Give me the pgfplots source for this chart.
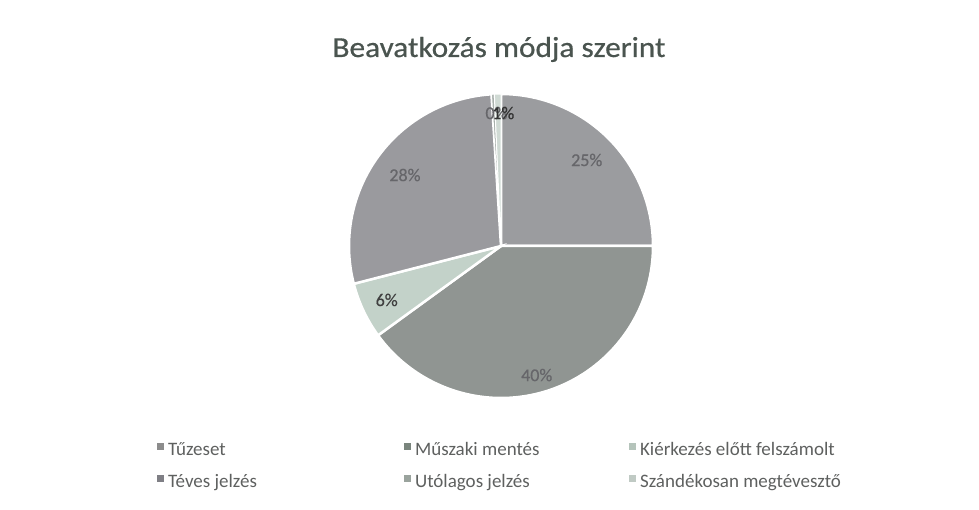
\documentclass[border=0pt]{standalone}
\usepackage{pgfplots}
\pgfplotsset{compat=1.18}
\usepackage{pgfplotstable}
\usepackage{fontspec}
\setmainfont{Carlito}
\newfontfamily\titlefont{Carlito}[FakeStretch=1.08, FakeBold=0.6]
\newfontfamily\labfont{Carlito}[FakeBold=0.5]
\definecolor{cA}{HTML}{9B9C9F}
\definecolor{cB}{HTML}{909592}
\definecolor{cC}{HTML}{C3D2C9}
\definecolor{cD}{HTML}{9A9A9E}
\definecolor{cE}{HTML}{A8B0AB}
\definecolor{cF}{HTML}{D0DAD4}
\definecolor{lA}{HTML}{8C8C8C}
\definecolor{lB}{HTML}{7A857D}
\definecolor{lC}{HTML}{B5C4BB}
\definecolor{lD}{HTML}{7F7F85}
\definecolor{lE}{HTML}{9AA39D}
\definecolor{lF}{HTML}{C0CAC4}
\definecolor{titlegray}{HTML}{4A544F}
\definecolor{legendgray}{HTML}{5E605F}
\definecolor{labgray}{HTML}{66666A}
\pgfplotstableread{
name value
Tuzeset 25
Muszaki 40
Kierkezes 6
Teves 28
Utolagos 0.3
Szandekosan 0.7
}\piedata
\begin{document}
\begin{tikzpicture}
\path (0,0) rectangle (979bp,510bp);
\pgfplotstablegetelem{0}{value}\of\piedata \let\vA\pgfplotsretval
\pgfplotstablegetelem{1}{value}\of\piedata \let\vB\pgfplotsretval
\pgfplotstablegetelem{2}{value}\of\piedata \let\vC\pgfplotsretval
\pgfplotstablegetelem{3}{value}\of\piedata \let\vD\pgfplotsretval
\pgfplotstablegetelem{4}{value}\of\piedata \let\vE\pgfplotsretval
\pgfplotstablegetelem{5}{value}\of\piedata \let\vF\pgfplotsretval
\pgfmathsetmacro\aA{90}
\pgfmathsetmacro\aB{\aA-3.6*\vA}
\pgfmathsetmacro\aC{\aB-3.6*\vB}
\pgfmathsetmacro\aD{\aC-3.6*\vC}
\pgfmathsetmacro\aE{\aD-3.6*\vD}
\pgfmathsetmacro\aF{\aE-3.6*\vE}
\pgfmathsetmacro\aG{\aF-3.6*\vF}
\node[font=\titlefont\fontsize{29bp}{32bp}\selectfont, text=titlegray, anchor=base] at (499bp,453bp) {Beavatkozás módja szerint};
\begin{axis}[
  at={(501bp,264bp)}, anchor=center,
  x=152bp, y=152bp, xmin=-1, xmax=1, ymin=-1, ymax=1,
  hide axis, clip=false,
  legend image code/.code={\fill[#1] (0bp,1bp) rectangle (7bp,8bp);},
  legend columns=3, legend cell align=left,
  legend style={draw=none, fill=none, anchor=north west, at={(-0.632,-0.1447)},
    column sep=0pt, row sep=15bp, inner sep=0pt,
    nodes={inner sep=0pt, text height=13bp, text depth=4bp,
      font=\fontsize{19bp}{22bp}\selectfont, text=legendgray}},
]
\fill[cA, draw=white, line width=2.5bp] (axis cs:0,0) -- (axis cs:{cos(\aA)},{sin(\aA)}) arc[start angle=\aA, end angle=\aB, radius=152bp] -- cycle;
\fill[cB, draw=white, line width=2.5bp] (axis cs:0,0) -- (axis cs:{cos(\aB)},{sin(\aB)}) arc[start angle=\aB, end angle=\aC, radius=152bp] -- cycle;
\fill[cC, draw=white, line width=2.5bp] (axis cs:0,0) -- (axis cs:{cos(\aC)},{sin(\aC)}) arc[start angle=\aC, end angle=\aD, radius=152bp] -- cycle;
\fill[cD, draw=white, line width=2.5bp] (axis cs:0,0) -- (axis cs:{cos(\aD)},{sin(\aD)}) arc[start angle=\aD, end angle=\aE, radius=152bp] -- cycle;
\fill[cE, draw=white, line width=1bp] (axis cs:0,0) -- (axis cs:{cos(\aE)},{sin(\aE)}) arc[start angle=\aE, end angle=\aF, radius=152bp] -- cycle;
\fill[cF, draw=white, line width=1bp] (axis cs:0,0) -- (axis cs:{cos(\aF)},{sin(\aF)}) arc[start angle=\aF, end angle=\aG, radius=152bp] -- cycle;
\node[font=\labfont\fontsize{18bp}{20bp}\selectfont, text=labgray] at (axis cs:0.564,0.566) {25\%};
\node[font=\labfont\fontsize{18bp}{20bp}\selectfont, text=labgray] at (axis cs:0.235,-0.849) {40\%};
\node[font=\labfont\fontsize{18bp}{20bp}\selectfont, text=labgray] at (axis cs:-0.632,0.467) {28\%};
\node[font=\labfont\fontsize{18bp}{20bp}\selectfont, text=black!75] at (axis cs:-0.752,-0.355) {6\%};
\node[font=\labfont\fontsize{18bp}{20bp}\selectfont, text=labgray] at (axis cs:-0.03,0.875) {0\%};
\node[font=\labfont\fontsize{18bp}{20bp}\selectfont, text=black!80] at (axis cs:0.015,0.875) {1\%};
\addlegendimage{fill=lA, draw=none}
\addlegendentry{\makebox[240bp][l]{\hspace{4bp}Tűzeset}}
\addlegendimage{fill=lB, draw=none}
\addlegendentry{\makebox[218bp][l]{\hspace{4bp}Műszaki mentés}}
\addlegendimage{fill=lC, draw=none}
\addlegendentry{\hspace{4bp}Kiérkezés előtt felszámolt}
\addlegendimage{fill=lD, draw=none}
\addlegendentry{\makebox[240bp][l]{\hspace{4bp}Téves jelzés}}
\addlegendimage{fill=lE, draw=none}
\addlegendentry{\makebox[218bp][l]{\hspace{4bp}Utólagos jelzés}}
\addlegendimage{fill=lF, draw=none}
\addlegendentry{\hspace{4bp}Szándékosan megtévesztő}
\end{axis}
\end{tikzpicture}
\end{document}
